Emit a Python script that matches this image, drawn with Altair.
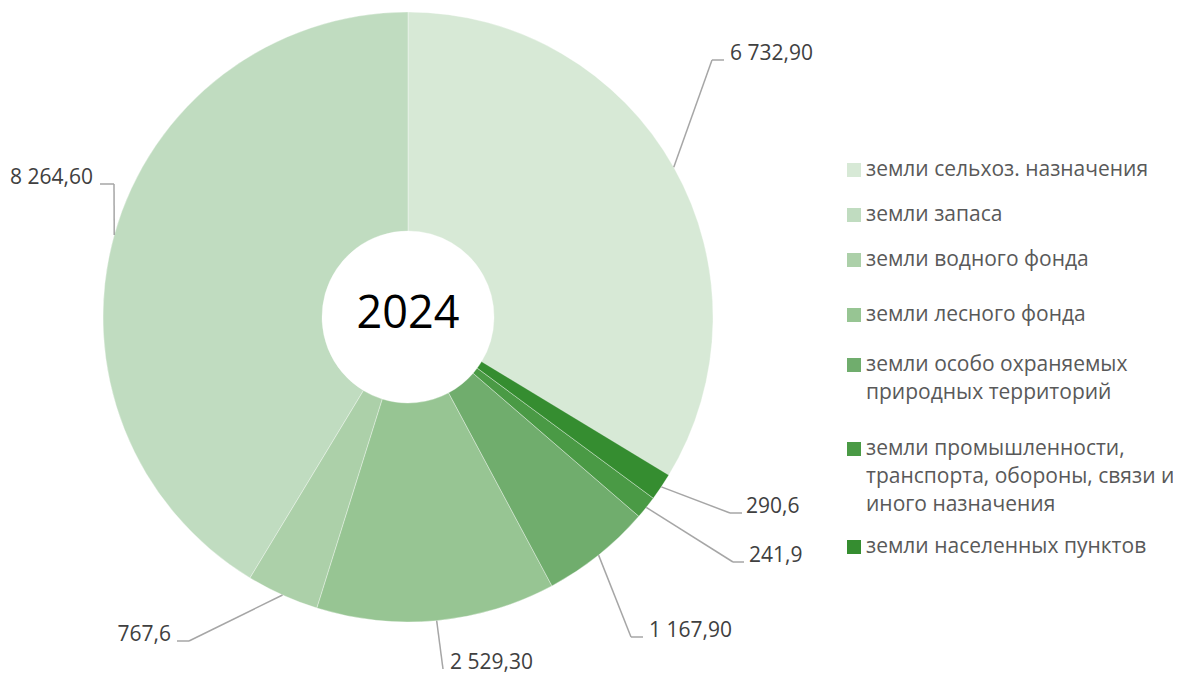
import math
import altair as alt
import pandas as pd

# ---------------- data ----------------
categories = [
    "земли сельхоз. назначения",
    "земли запаса",
    "земли водного фонда",
    "земли лесного фонда",
    "земли особо охраняемых природных территорий",
    "земли промышленности, транспорта, обороны, связи и иного назначения",
    "земли населенных пунктов",
]
values = [6732.90, 8264.60, 767.6, 2529.30, 1167.90, 241.9, 290.6]
value_labels = ["6 732,90", "8 264,60", "767,6", "2 529,30", "1 167,90", "241,9", "290,6"]
# clockwise position of each slice, starting at 12 o'clock
slice_order = [0, 6, 5, 4, 3, 2, 1]
legend_lines = [
    ["земли сельхоз. назначения"],
    ["земли запаса"],
    ["земли водного фонда"],
    ["земли лесного фонда"],
    ["земли особо охраняемых", "природных территорий"],
    ["земли промышленности,", "транспорта, обороны, связи и", "иного назначения"],
    ["земли населенных пунктов"],
]
center_title = "2024"

# ---------------- style / layout ----------------
colors = ["#d7e9d6", "#c0dcc0", "#acd0a9", "#97c593", "#70ad6d", "#4a9a45", "#358d30"]
W, H, OFF = 1165, 667, 8          # chart size, page margin
CX, CY = 408, 317                  # pie centre (page px)
R_OUT, R_IN = 305, 86
FONT = "Open Sans"
# label layout (page px): elbow x, elbow/baseline y, horizontal end x, text x, align
label_layout = [
    (712, 60, 724, 730, "left"),
    (114, 184, 100, 93, "right"),
    (189, 641, 177, 171, "right"),
    (443, 669, 443, 450, "left"),
    (631, 637, 643, 649, "left"),
    (733, 562, 744, 749, "left"),
    (730, 513, 742, 746, "left"),
]
legend_item_y = [170, 215, 260, 315, 365, 449, 547]
legend_line_step = 28
legend_sq_x, legend_text_x = 854, 866

# ---------------- tables ----------------
total = sum(values)
pie_df = pd.DataFrame({"cat": categories, "value": values, "ord": slice_order})

cum = 0.0
mid = {}
for i in sorted(range(len(categories)), key=lambda k: slice_order[k]):
    mid[i] = (cum + values[i] / 2) / total * 2 * math.pi
    cum += values[i]

seg_rows, lab_rows = [], []
for i, (ex, ey, hx, tx, al) in enumerate(label_layout):
    a = mid[i]
    sx = CX + R_OUT * math.sin(a)
    sy = CY - R_OUT * math.cos(a)
    seg_rows.append({"x": sx, "y": sy, "x2": ex, "y2": ey})
    if hx != ex:
        seg_rows.append({"x": ex, "y": ey, "x2": hx, "y2": ey})
    lab_rows.append({"x": tx, "y": ey, "text": value_labels[i], "align": al})
seg_df = pd.DataFrame(seg_rows)
lab_df = pd.DataFrame(lab_rows)

leg_sq, leg_txt = [], []
for i, lines in enumerate(legend_lines):
    leg_sq.append({"x": legend_sq_x, "y": legend_item_y[i], "cat": categories[i]})
    for j, ln in enumerate(lines):
        leg_txt.append({"x": legend_text_x, "y": legend_item_y[i] + j * legend_line_step, "text": ln})
leg_sq_df = pd.DataFrame(leg_sq)
leg_txt_df = pd.DataFrame(leg_txt)

xs = alt.Scale(domain=[OFF, OFF + W], nice=False, zero=False)
ys = alt.Scale(domain=[OFF, OFF + H], nice=False, zero=False, reverse=True)
cs = alt.Scale(domain=categories, range=colors)

pie = alt.Chart(pie_df).mark_arc(
    outerRadius=R_OUT, innerRadius=R_IN, stroke="white", strokeWidth=0.5, strokeOpacity=0.7
).encode(
    theta=alt.Theta("value:Q", stack=True),
    order=alt.Order("ord:Q", sort="ascending"),
    color=alt.Color("cat:N", scale=cs, legend=None),
    x=alt.value(CX - OFF),
    y=alt.value(CY - OFF),
)

leaders = alt.Chart(seg_df).mark_rule(color="#a6a6a6", strokeWidth=1.5).encode(
    x=alt.X("x:Q", scale=xs, axis=None),
    y=alt.Y("y:Q", scale=ys, axis=None),
    x2="x2:Q",
    y2="y2:Q",
)

labels_left = alt.Chart(lab_df[lab_df["align"] == "left"]).mark_text(
    align="left", baseline="alphabetic", font=FONT, fontSize=21, color="#404040"
).encode(x=alt.X("x:Q", scale=xs), y=alt.Y("y:Q", scale=ys), text="text:N")

labels_right = alt.Chart(lab_df[lab_df["align"] == "right"]).mark_text(
    align="right", baseline="alphabetic", font=FONT, fontSize=21, color="#404040"
).encode(x=alt.X("x:Q", scale=xs), y=alt.Y("y:Q", scale=ys), text="text:N")

center = alt.Chart(pd.DataFrame({"x": [CX], "y": [328], "text": [center_title]})).mark_text(
    align="center", baseline="alphabetic", font=FONT, fontSize=45, color="#000000"
).encode(x=alt.X("x:Q", scale=xs), y=alt.Y("y:Q", scale=ys), text="text:N")

legend_sq = alt.Chart(leg_sq_df).mark_square(size=196, opacity=1, filled=True).encode(
    x=alt.X("x:Q", scale=xs),
    y=alt.Y("y:Q", scale=ys),
    color=alt.Color("cat:N", scale=cs, legend=None),
)

legend_txt = alt.Chart(leg_txt_df).mark_text(
    align="left", baseline="middle", font=FONT, fontSize=21, color="#595959"
).encode(x=alt.X("x:Q", scale=xs), y=alt.Y("y:Q", scale=ys), text="text:N")

chart = alt.layer(
    pie, leaders, labels_left, labels_right, center, legend_sq, legend_txt
).properties(
    width=W, height=H, padding=0, autosize=alt.AutoSizeParams(type="none"), background="white"
).configure_view(stroke=None)

chart.save("out.html", embed_options={"renderer": "svg", "actions": False})
